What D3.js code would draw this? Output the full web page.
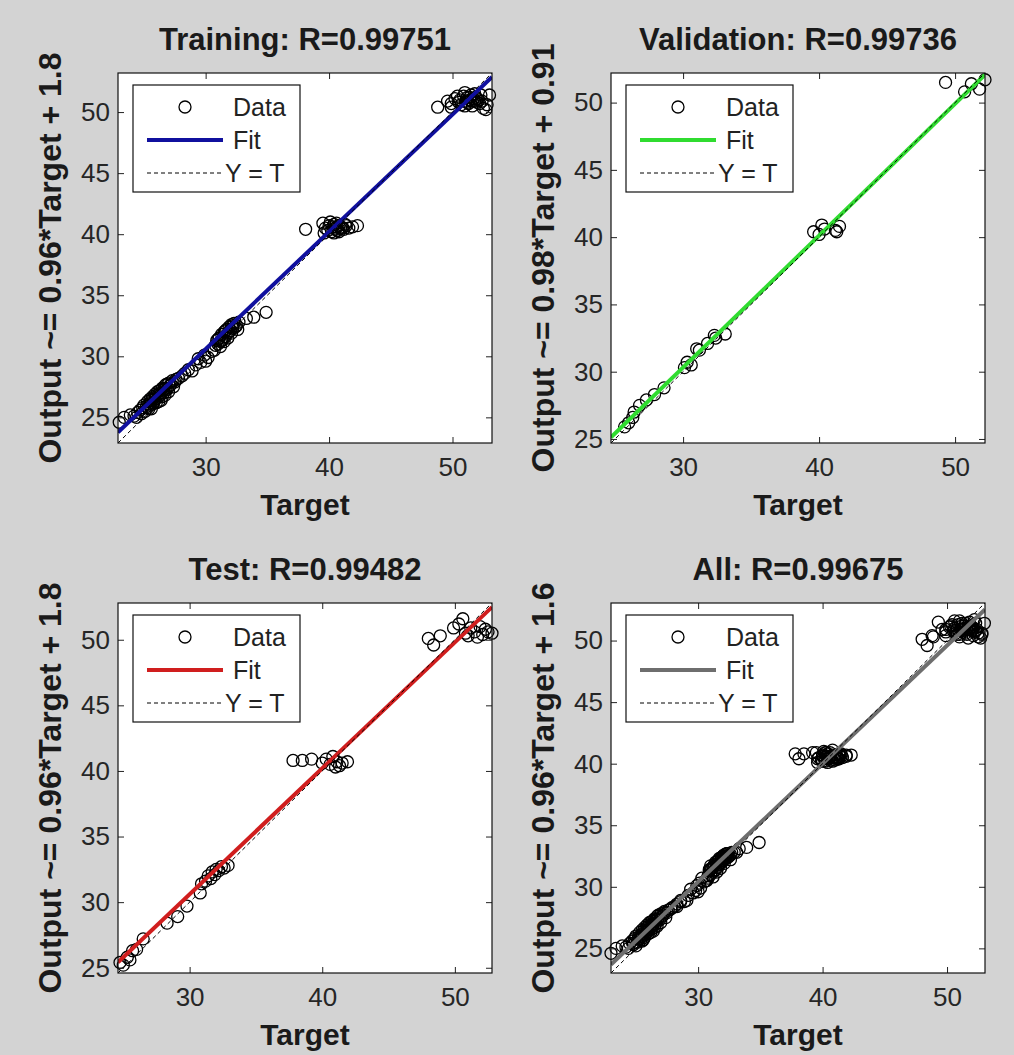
<!DOCTYPE html>
<html>
<head>
<meta charset="utf-8">
<script src="https://cdn.jsdelivr.net/npm/d3@7"></script>
<style>
  body { margin: 0; background: #d3d3d3; }
  svg { display: block; font-family: "Liberation Sans", Arial, sans-serif; }
</style>
</head>
<body>
<div id="chart"></div>
<script>
// targets / outputs
const trainTarget = [23.0, 23.4, 23.9, 24.2, 24.5, 24.7, 24.9, 25.0, 25.2, 25.3, 25.4, 25.5, 25.6, 25.7, 25.8,
  25.9, 26.0, 26.1, 26.2, 26.3, 26.4, 26.5, 26.6, 26.7, 26.8, 27.0, 27.1, 27.3, 27.5, 27.8,
  24.4, 24.8, 25.1, 25.3, 25.5, 25.6, 25.8, 25.9, 26.0, 26.1, 26.2, 26.3, 26.5, 26.6, 26.7, 26.9, 27.0, 27.2,
  27.4, 27.6, 26.4, 25.7, 25.4, 26.8,
  28.3, 28.6, 29.2, 29.6, 29.9, 30.2, 30.5, 28.1, 28.9, 29.4, 30.0,
  30.8, 30.9, 31.0, 31.1, 31.2, 31.3, 31.4, 31.5, 31.6, 31.7, 31.8, 31.9, 32.0, 32.1, 32.2, 32.3, 32.5, 32.7,
  30.7, 31.0, 31.2, 31.3, 31.5, 31.6, 31.8, 31.9, 32.1, 32.2, 32.4, 32.6,
  33.3, 33.9, 34.9,
  38.1, 39.5, 39.7, 39.9, 40.0, 40.2, 40.3, 40.4, 40.5, 40.6, 40.7, 40.8, 40.9, 41.0, 41.2, 41.4, 41.6, 41.9, 42.3,
  39.6, 40.1, 40.4, 40.6, 40.8, 41.1, 41.3, 40.5,
  48.8, 49.6, 49.9, 50.2, 50.5, 50.7, 50.9, 51.0, 51.1, 51.2, 51.3, 51.4, 51.5, 51.6, 51.7, 51.8, 51.9, 52.0,
  52.1, 52.3, 52.5, 52.7, 53.0,
  49.9, 50.4, 50.6, 51.0, 51.2, 51.4, 51.6, 51.8, 52.0, 52.2, 52.4, 52.8]
const trainOutput = [24.6, 25.0, 25.2, 25.1, 25.4, 25.6, 25.8, 26.0, 25.9, 26.3, 26.1, 26.5, 26.4, 26.7, 26.6,
  26.9, 26.8, 27.1, 26.9, 27.2, 27.0, 27.4, 27.3, 27.6, 27.4, 27.8, 27.6, 28.0, 27.9, 28.2,
  25.0, 25.3, 25.5, 25.8, 26.0, 25.7, 26.2, 26.5, 26.2, 26.6, 26.3, 26.8, 26.7, 27.0, 26.8, 27.3, 27.1, 27.7,
  27.5, 28.1, 26.4, 26.1, 25.7, 27.7,
  28.6, 28.9, 29.3, 29.5, 30.1, 29.9, 30.4, 28.4, 28.8, 29.8, 29.6,
  30.9, 31.3, 31.0, 31.5, 31.2, 31.8, 31.4, 32.0, 31.6, 32.2, 31.9, 32.4, 32.1, 32.6, 32.3, 32.7, 32.5, 32.8,
  30.5, 31.4, 30.8, 31.3, 31.2, 32.1, 31.5, 32.0, 31.9, 32.5, 32.4, 32.2,
  33.1, 33.2, 33.6,
  40.4, 40.9, 40.5, 40.3, 40.7, 40.2, 40.6, 40.8, 40.4, 40.6, 40.3, 40.7, 40.5, 40.6, 40.4, 40.7, 40.5, 40.6, 40.7,
  40.1, 41.0, 40.1, 40.9, 40.2, 40.5, 40.8, 40.5,
  50.4, 50.9, 50.7, 51.1, 50.8, 50.6, 51.3, 51.6, 50.9, 51.2, 50.7, 51.0, 51.4, 50.5, 51.1, 50.9, 51.2, 50.8,
  51.0, 51.4, 50.3, 50.2, 51.4,
  50.4, 51.3, 51.0, 50.5, 50.8, 51.2, 50.9, 51.5, 51.1, 50.7, 50.9, 50.6]

const valTarget = [25.7, 26.0, 26.3, 26.4, 26.8, 27.3, 27.9, 28.6, 30.1, 30.3, 30.6, 31.0, 31.2, 31.8, 32.3,
  32.4, 33.1, 39.6, 40.0, 40.2, 40.4, 41.2, 41.3, 41.5, 49.3, 50.7, 51.2, 51.8, 52.2]
const valOutput = [25.9, 26.2, 26.6, 27.0, 27.5, 27.9, 28.3, 28.8, 30.3, 30.7, 30.5, 31.7, 31.6, 32.1, 32.7,
  32.5, 32.8, 40.4, 40.2, 40.9, 40.6, 40.5, 40.4, 40.8, 51.5, 50.8, 51.4, 51.0, 51.7]

const testTarget = [24.75, 25.0, 25.3, 25.5, 25.7, 26.0, 26.5, 28.3, 29.1, 29.8,
  30.8, 30.9, 31.2, 31.4, 31.6, 31.7, 31.9, 32.0, 32.2, 32.4, 32.6, 32.9,
  37.8, 38.5, 39.2, 40.0, 40.3, 40.6, 40.8, 41.0, 41.1, 41.3, 41.5, 41.9,
  48.0, 48.4, 48.9, 49.9, 50.3, 50.6, 50.8, 51.0, 51.2, 51.5, 51.7, 51.9, 52.1, 52.3, 52.5, 52.8]
const testOutput = [25.4, 25.2, 25.8, 25.6, 26.3, 26.4, 27.2, 28.4, 28.9, 29.7,
  30.7, 31.4, 31.6, 32.0, 31.8, 32.3, 32.1, 32.5, 32.4, 32.7, 32.6, 32.8,
  40.8, 40.8, 40.9, 40.6, 40.9, 40.5, 41.1, 40.3, 40.7, 40.4, 40.6, 40.7,
  50.1, 49.6, 50.3, 50.9, 51.2, 51.6, 50.5, 50.3, 50.9, 50.6, 50.2, 51.0, 50.4, 50.8, 50.6, 50.5]

// "All" is simply every sample together
const allTarget = trainTarget.concat(valTarget, testTarget)
const allOutput = trainOutput.concat(valOutput, testOutput)

const titles = ["Training", "Validation", "Test", "All"]
const rValues = ["0.99751", "0.99736", "0.99482", "0.99675"]
const fitSlopes = [0.96, 0.98, 0.96, 0.96]
const fitIntercepts = [1.8, 0.91, 1.8, 1.6]
const axisLimits = [[22.9, 53.2], [24.7, 52.2], [24.6, 52.8], [23.0, 53.05]]
const xTicks = [30, 40, 50]
const yTicks = [25, 30, 35, 40, 45, 50]
const legendLabels = ["Data", "Fit", "Y = T"]

const fitColors = ["#10109e", "#30dc30", "#d01e1e", "#6e6e6e"]
const targets = [trainTarget, valTarget, testTarget, allTarget]
const outputs = [trainOutput, valOutput, testOutput, allOutput]

const width = 1014
const height = 1055
const plotW = 374
const plotH = 370
const origins = [[118, 73], [611, 73], [118, 603], [611, 603]]

const svg = d3.select("#chart")
              .append("svg")
              .attr("width", width)
              .attr("height", height)

svg.append("rect")
    .attr("width", width)
    .attr("height", height)
    .attr("fill", "#d3d3d3")

titles.forEach((name, i) => {
  const [ox, oy] = origins[i]
  const g = svg.append("g").attr("transform", `translate(${ox},${oy})`)
  const lim = axisLimits[i]
  const x = d3.scaleLinear().domain(lim).range([0, plotW])
  const y = d3.scaleLinear().domain(lim).range([plotH, 0])

  g.append("rect")
    .attr("width", plotW)
    .attr("height", plotH)
    .attr("fill", "white")

  const clipId = "clip" + i
  g.append("clipPath").attr("id", clipId)
    .append("rect").attr("width", plotW).attr("height", plotH)

  // data circles
  const pts = targets[i].map((t, k) => [t, outputs[i][k]])
  g.append("g")
    .selectAll("circle")
    .data(pts)
    .enter()
    .append("circle")
    .attr("cx", d => x(d[0]))
    .attr("cy", d => y(d[1]))
    .attr("r", 6)
    .attr("fill", "none")
    .attr("stroke", "black")
    .attr("stroke-width", 1.3)

  // fit line
  const fit = t => fitSlopes[i] * t + fitIntercepts[i]
  const line = d3.line().x(d => x(d[0])).y(d => y(d[1]))
  g.append("path")
    .attr("clip-path", `url(#${clipId})`)
    .attr("d", line(lim.map(t => [t, fit(t)])))
    .attr("stroke", fitColors[i])
    .attr("stroke-width", 4)
    .attr("fill", "none")

  // Y = T
  g.append("path")
    .attr("clip-path", `url(#${clipId})`)
    .attr("d", line(lim.map(t => [t, t])))
    .attr("stroke", "black")
    .attr("stroke-width", 1)
    .attr("stroke-dasharray", "4,3")
    .attr("fill", "none")

  // axes, ticks inside on all four sides
  g.append("g").attr("transform", `translate(0,${plotH})`)
    .call(d3.axisBottom(x).tickValues(xTicks).tickSizeInner(-6).tickSizeOuter(0).tickPadding(15))
  g.append("g")
    .call(d3.axisLeft(y).tickValues(yTicks).tickSizeInner(-6).tickSizeOuter(0).tickPadding(8))
  g.append("g")
    .call(d3.axisTop(x).tickValues(xTicks).tickSizeInner(-6).tickSizeOuter(0).tickFormat(""))
  g.append("g").attr("transform", `translate(${plotW},0)`)
    .call(d3.axisRight(y).tickValues(yTicks).tickSizeInner(-6).tickSizeOuter(0).tickFormat(""))
  g.selectAll(".domain").remove()
  g.selectAll(".tick line").attr("stroke", "#222")
  g.selectAll(".tick text")
    .attr("font-size", 26)
    .attr("font-family", "Liberation Sans, Arial, sans-serif")
    .attr("fill", "#262626")

  g.append("rect")
    .attr("width", plotW)
    .attr("height", plotH)
    .attr("fill", "none")
    .attr("stroke", "#111")
    .attr("stroke-width", 1.2)

  // legend
  const lg = g.append("g").attr("transform", "translate(15,12)")
  lg.append("rect")
    .attr("width", 167)
    .attr("height", 107)
    .attr("fill", "white")
    .attr("stroke", "#111")
    .attr("stroke-width", 1.2)
  const rows = [22, 55, 88]
  lg.append("circle")
    .attr("cx", 52).attr("cy", rows[0]).attr("r", 6)
    .attr("fill", "none").attr("stroke", "black").attr("stroke-width", 1.3)
  lg.append("line")
    .attr("x1", 14).attr("x2", 90).attr("y1", rows[1]).attr("y2", rows[1])
    .attr("stroke", fitColors[i]).attr("stroke-width", 4)
  lg.append("line")
    .attr("x1", 14).attr("x2", 90).attr("y1", rows[2]).attr("y2", rows[2])
    .attr("stroke", "black").attr("stroke-width", 1).attr("stroke-dasharray", "4,3")
  lg.selectAll("text.lab")
    .data(legendLabels)
    .enter()
    .append("text")
    .attr("class", "lab")
    .attr("x", (d, k) => k == 2 ? 92 : 100)
    .attr("y", (d, k) => rows[k])
    .attr("dy", "0.36em")
    .attr("font-size", 25)
    .attr("fill", "#222")
    .text(d => d)

  // title and labels
  g.append("text")
    .attr("x", plotW / 2)
    .attr("y", -23)
    .attr("text-anchor", "middle")
    .attr("font-size", 31)
    .attr("font-weight", "bold")
    .attr("fill", "#1a1a1a")
    .text(`${name}: R=${rValues[i]}`)

  g.append("text")
    .attr("x", plotW / 2)
    .attr("y", plotH + 72)
    .attr("text-anchor", "middle")
    .attr("font-size", 30)
    .attr("font-weight", "bold")
    .attr("fill", "#1a1a1a")
    .text("Target")

  g.append("text")
    .attr("transform", `translate(-57,${plotH / 2}) rotate(-90)`)
    .attr("text-anchor", "middle")
    .attr("font-size", 32)
    .attr("font-weight", "bold")
    .attr("fill", "#1a1a1a")
    .text(`Output ~= ${fitSlopes[i]}*Target + ${fitIntercepts[i]}`)
})
</script>
</body>
</html>
